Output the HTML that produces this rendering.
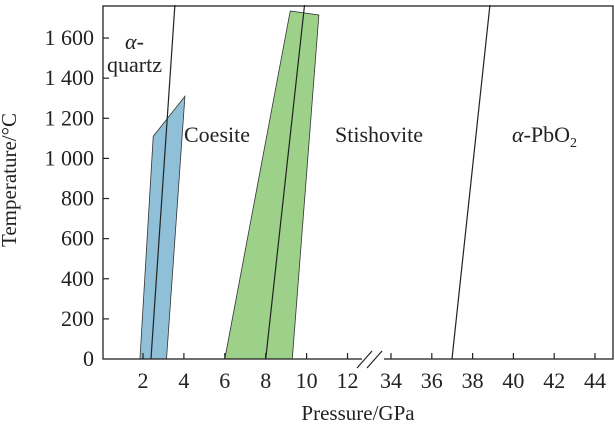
<!DOCTYPE html>
<html><head><meta charset="utf-8"><style>
body{margin:0;background:#fff}
svg text{font-family:"Liberation Serif",serif;fill:#222}
</style></head><body>
<svg width="615" height="429" viewBox="0 0 615 429">
<g id="marks"></g>
<g id="axes"></g>
</svg>
<script>
const yTicks=[0,200,400,600,800,1000,1200,1400,1600];
const yTickLabels=["0","200","400","600","800","1 000","1 200","1 400","1 600"];
const xTicksLeft=[2,4,6,8,10,12];
const xTicksRight=[34,36,38,40,42,44];
const quartzCoesiteLine=[[2.39,0],[3.56,1765]];
const coesiteStishoviteLine=[[8.0,0],[9.9,1765]];
const stishovitePbO2Line=[[36.99,0],[38.85,1765]];
const blueRegion=[[1.85,0],[2.5,1110],[4.05,1310],[3.15,0]];
const greenRegion=[[6.0,0],[9.2,1735],[10.6,1715],[9.3,0]];

const NS="http://www.w3.org/2000/svg";
const L=103,R=613,T=6,B=359;
function sx(p){return p<=20?143+(p-2)*20.45:391+(p-34)*20.4;}
function sy(t){return B-t*0.2006;}
function mk(tag,attrs,parent){const e=document.createElementNS(NS,tag);for(const k in attrs)e.setAttribute(k,attrs[k]);parent.appendChild(e);return e;}
const marks=document.getElementById('marks'),axes=document.getElementById('axes');
function poly(d,fill,name){const e=mk('polygon',{points:d.map(p=>sx(p[0])+','+sy(p[1])).join(' '),fill:fill,stroke:'#333','stroke-width':0.8},marks);

}
poly(blueRegion,'#8fc0d8','coesite-transition-region');
poly(greenRegion,'#9dd18a','stishovite-transition-region');
function line(d,name){const e=mk('line',{x1:sx(d[0][0]),y1:sy(d[0][1]),x2:sx(d[1][0]),y2:sy(d[1][1]),stroke:'#222','stroke-width':1.2},marks);

}
line(quartzCoesiteLine,'quartz-coesite-boundary');
line(coesiteStishoviteLine,'coesite-stishovite-boundary');
line(stishovitePbO2Line,'stishovite-pbo2-boundary');
const fr=mk('rect',{x:L,y:T,width:R-L,height:B-T,fill:'none',stroke:'#222','stroke-width':1.3},axes);


yTicks.forEach((v,i)=>{const y=sy(v);
 if(v>0)mk('line',{x1:L,y1:y,x2:L+6,y2:y,stroke:'#222','stroke-width':1.2},axes);
 const t=mk('text',{x:94,y:y+7,'text-anchor':'end','font-size':22},axes);t.textContent=yTickLabels[i];
 
 });
xTicksLeft.concat(xTicksRight).forEach(v=>{const x=sx(v);
 mk('line',{x1:x,y1:B,x2:x,y2:B-6,stroke:'#222','stroke-width':1.2},axes);
 const t=mk('text',{x:x,y:B+29,'text-anchor':'middle','font-size':22},axes);t.textContent=v;
 
 });
mk('rect',{x:362,y:350,width:22,height:12,fill:'#fff'},axes);
mk('line',{x1:357,y1:368,x2:372,y2:351,stroke:'#222','stroke-width':1.2},axes);
mk('line',{x1:367,y1:368,x2:382,y2:351,stroke:'#222','stroke-width':1.2},axes);
</script>
<svg style="position:absolute;left:0;top:0" width="615" height="429">
<text x="16" y="180" font-size="21" text-anchor="middle" transform="rotate(-90 16 180)">Temperature/°C</text>
<text x="358" y="420" font-size="21" text-anchor="middle">Pressure/GPa</text>
<text x="125" y="49" font-size="22"><tspan font-style="italic">α</tspan>-</text>
<text x="107" y="72" font-size="22">quartz</text>
<text x="184" y="142" font-size="22">Coesite</text>
<text x="335" y="142" font-size="22">Stishovite</text>
<text x="512" y="142" font-size="22"><tspan font-style="italic">α</tspan>-PbO<tspan font-size="14" dy="5">2</tspan></text>
</svg>
</body></html>
